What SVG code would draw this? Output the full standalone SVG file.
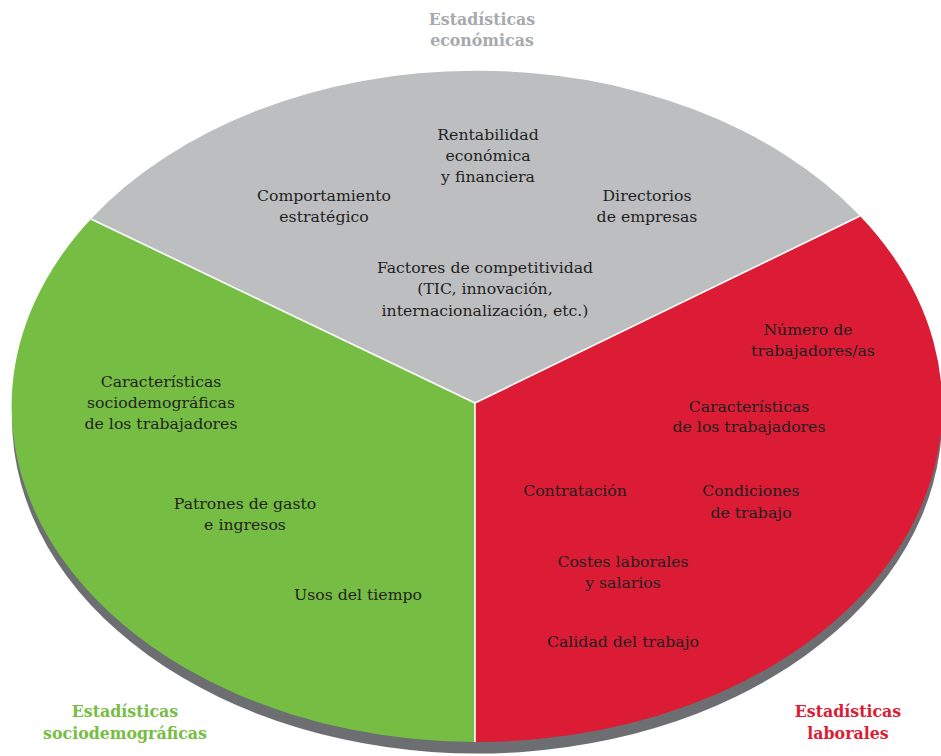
<svg xmlns="http://www.w3.org/2000/svg" width="941" height="756" viewBox="0 0 941 756">
<style>
.t{font-family:"DejaVu Serif","Liberation Serif",serif;font-size:15.7px;fill:#231f20;text-anchor:middle}
.h{font-family:"DejaVu Serif","Liberation Serif",serif;font-size:15.8px;font-weight:bold;text-anchor:middle}
.sep{stroke:#ffffff;stroke-width:1.6;fill:none}
</style>
<rect width="941" height="756" fill="#ffffff"/>
<g id="base">
<ellipse cx="477" cy="418" rx="465" ry="335.5" fill="#6d6e71"/>
</g>
<g id="slice-economicas">
<path d="M475,403 L91,219 A465,335.5 0 0 1 860,216 Z" fill="#bcbec0"/>
</g>
<g id="slice-laborales">
<path d="M475,403 L860,216 A465,335.5 0 0 1 475,742 Z" fill="#dc1c35"/>
</g>
<g id="slice-sociodemograficas">
<path d="M475,403 L475,742 A465,335.5 0 0 1 91,219 Z" fill="#76bd43"/>
</g>
<g id="connectors">
<line class="sep" x1="475" y1="403" x2="91" y2="219"/>
<line class="sep" x1="475" y1="403" x2="860" y2="216"/>
<line class="sep" x1="475" y1="403" x2="475" y2="742"/>
</g>
<g id="title-economicas">
<text class="h" fill="#a7a9ac" x="482" y="25">Estadísticas</text>
<text class="h" fill="#a7a9ac" x="482" y="46">económicas</text>
</g>
<g id="title-sociodemograficas">
<text class="h" fill="#76bd43" x="125" y="717">Estadísticas</text>
<text class="h" fill="#76bd43" x="125" y="739">sociodemográficas</text>
</g>
<g id="title-laborales">
<text class="h" fill="#dc1c35" x="848" y="717">Estadísticas</text>
<text class="h" fill="#dc1c35" x="848" y="739">laborales</text>
</g>
<g id="n-rentabilidad">
<text class="t" x="488" y="140">Rentabilidad</text>
<text class="t" x="488" y="161">económica</text>
<text class="t" x="488" y="182">y financiera</text>
</g>
<g id="n-comportamiento">
<text class="t" x="324" y="201">Comportamiento</text>
<text class="t" x="324" y="222">estratégico</text>
</g>
<g id="n-directorios">
<text class="t" x="647" y="201">Directorios</text>
<text class="t" x="647" y="222">de empresas</text>
</g>
<g id="n-factores">
<text class="t" x="485" y="273">Factores de competitividad</text>
<text class="t" x="485" y="294">(TIC, innovación,</text>
<text class="t" x="485" y="316">internacionalización, etc.)</text>
</g>
<g id="n-numero">
<text class="t" x="808" y="335">Número de</text>
<text class="t" x="813" y="356">trabajadores/as</text>
</g>
<g id="n-caracteristicas-lab">
<text class="t" x="749" y="412">Características</text>
<text class="t" x="749" y="432">de los trabajadores</text>
</g>
<g id="n-contratacion">
<text class="t" x="575" y="496">Contratación</text>
</g>
<g id="n-condiciones">
<text class="t" x="751" y="496">Condiciones</text>
<text class="t" x="751" y="518">de trabajo</text>
</g>
<g id="n-costes">
<text class="t" x="623" y="567">Costes laborales</text>
<text class="t" x="623" y="588">y salarios</text>
</g>
<g id="n-calidad">
<text class="t" x="623" y="647">Calidad del trabajo</text>
</g>
<g id="n-caracteristicas-soc">
<text class="t" x="161" y="387">Características</text>
<text class="t" x="161" y="408">sociodemográficas</text>
<text class="t" x="161" y="429">de los trabajadores</text>
</g>
<g id="n-patrones">
<text class="t" x="245" y="509">Patrones de gasto</text>
<text class="t" x="245" y="530">e ingresos</text>
</g>
<g id="n-usos">
<text class="t" x="358" y="600">Usos del tiempo</text>
</g>
</svg>
